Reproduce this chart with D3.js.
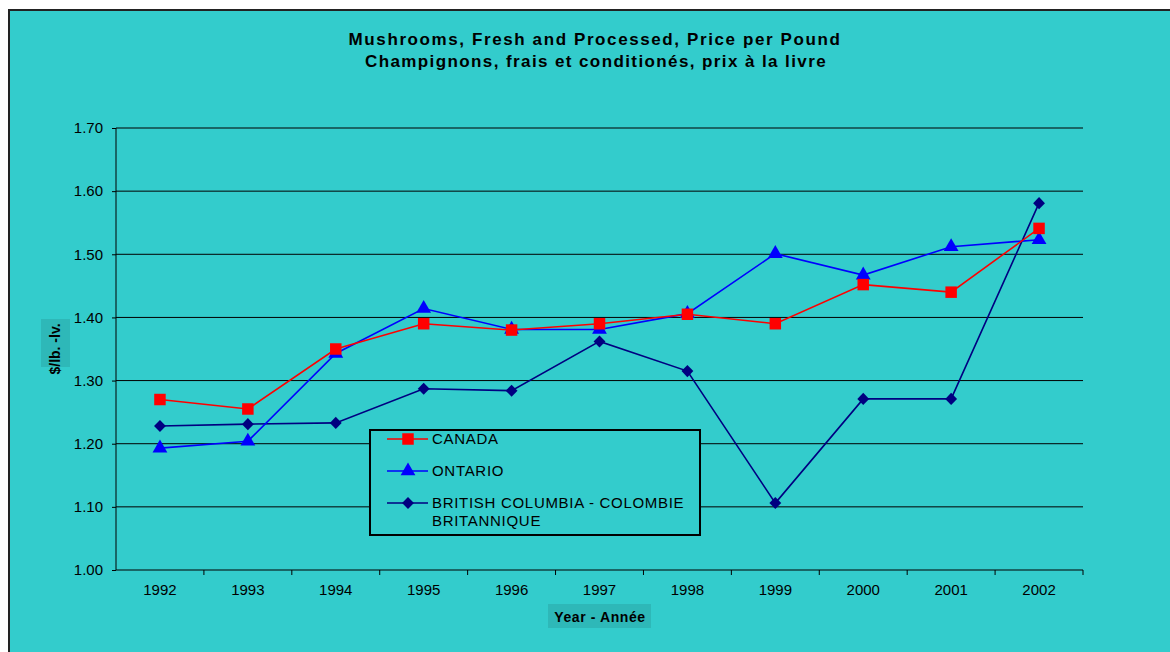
<!DOCTYPE html>
<html>
<head>
<meta charset="utf-8">
<script src="https://cdn.jsdelivr.net/npm/d3@7"></script>
<style>
  body { margin: 0; background: #fff; }
  text { font-family: "Liberation Sans", Arial, sans-serif; }
</style>
</head>
<body>
<div id="chart"></div>
<script>
// data
let years = ["1992","1993","1994","1995","1996","1997","1998","1999","2000","2001","2002"];
let canada  = [1.27, 1.255, 1.35, 1.39, 1.38, 1.39, 1.405, 1.39, 1.452, 1.44, 1.541];
let ontario = [1.193, 1.204, 1.343, 1.414, 1.381, 1.381, 1.406, 1.501, 1.467, 1.512, 1.523];
let bc      = [1.228, 1.231, 1.233, 1.287, 1.284, 1.362, 1.315, 1.106, 1.271, 1.271, 1.581];
let yTicks  = [1.00, 1.10, 1.20, 1.30, 1.40, 1.50, 1.60, 1.70];
let seriesNames = ["CANADA", "ONTARIO", "BRITISH COLUMBIA - COLOMBIE|BRITANNIQUE"];

let W = 1170, H = 652;
let margin = {top: 128, left: 116, right: 1170 - 1083, bottom: 652 - 570};
let width = W - margin.left - margin.right,
    height = H - margin.top - margin.bottom;

let svg = d3.select("#chart").append("svg")
    .attr("width", W)
    .attr("height", H);

// chart frame
svg.append("rect")
    .attr("x", 9).attr("y", 10)
    .attr("width", W).attr("height", H)
    .attr("fill", "#33CCCC")
    .attr("stroke", "#222")
    .attr("stroke-width", 2);

svg.append("text")
    .attr("x", 595).attr("y", 45)
    .attr("text-anchor", "middle")
    .style("font-size", "17px").style("font-weight", "bold").style("letter-spacing", "1.6px")
    .text("Mushrooms, Fresh and Processed, Price per Pound");
svg.append("text")
    .attr("x", 596).attr("y", 67)
    .attr("text-anchor", "middle")
    .style("font-size", "17px").style("font-weight", "bold").style("letter-spacing", "1.4px")
    .text("Champignons, frais et conditionés, prix à la livre");

let g = svg.append("g")
    .attr("transform", "translate(" + margin.left + "," + margin.top + ")");

let x = d3.scaleBand().domain(years).range([0, width]);
let y = d3.scaleLinear().domain([1.0, 1.7]).range([height, 0]);

// gridlines
g.selectAll(".grid").data(yTicks.slice(1)).enter().append("line")
    .attr("x1", 0).attr("x2", width)
    .attr("y1", d => y(d)).attr("y2", d => y(d))
    .attr("stroke", "#000").attr("stroke-width", 1);

let yAxis = d3.axisLeft(y).tickValues(yTicks).tickFormat(d3.format(".2f")).tickSize(4).tickPadding(9);
let gy = g.append("g").call(yAxis);
gy.select(".domain").attr("d", "M0," + height + "V0");
gy.selectAll("text").style("font-size", "15px").attr("fill", "#000");

let xAxis = d3.axisBottom(x).tickSize(0).tickPadding(14);
let gx = g.append("g").attr("transform", "translate(0," + height + ")").call(xAxis);
gx.select(".domain").attr("d", "M0,0H" + width);
gx.selectAll("text").style("font-size", "15px").attr("fill", "#000");
// ticks between categories
gx.selectAll(".sep").data(years.slice(1).concat(["end"])).enter().append("line")
    .attr("x1", (d, i) => x.step() * (i + 1)).attr("x2", (d, i) => x.step() * (i + 1))
    .attr("y1", 0).attr("y2", 5)
    .attr("stroke", "#000");

// axis titles
svg.append("rect").attr("x", 41).attr("y", 319).attr("width", 29).attr("height", 48)
    .attr("fill", "#2EB8B8");
svg.append("text")
    .attr("transform", "translate(60,349) rotate(-90)")
    .attr("text-anchor", "middle")
    .style("font-size", "14px").style("font-weight", "bold")
    .text("$/lb. -lv.");
svg.append("rect").attr("x", 548).attr("y", 604).attr("width", 103).attr("height", 24)
    .attr("fill", "#2EB8B8");
svg.append("text")
    .attr("x", 600).attr("y", 622)
    .attr("text-anchor", "middle")
    .style("font-size", "14px").style("font-weight", "bold").style("letter-spacing", "0.6px")
    .text("Year - Année");

let line = d3.line()
    .x((d, i) => x(years[i]) + x.bandwidth() / 2)
    .y(d => y(d));

let series = [
  {vals: bc, color: "#000080", shape: d3.symbolDiamond, size: 42},
  {vals: ontario, color: "#0000FF", shape: d3.symbolTriangle, size: 95},
  {vals: canada, color: "#FF0000", shape: d3.symbolSquare, size: 132}
];

function markerTransform(shape, cx, cy) {
    return "translate(" + cx + "," + cy + ")" + (shape === d3.symbolDiamond ? " scale(1.7,1)" : "");
}

series.forEach(function(s) {
    g.append("path").datum(s.vals)
        .attr("d", line)
        .attr("fill", "none")
        .attr("stroke", s.color)
        .attr("stroke-width", 1.6);
});
series.forEach(function(s) {
    g.selectAll(null).data(s.vals).enter().append("path")
        .attr("transform", (d, i) => markerTransform(s.shape, x(years[i]) + x.bandwidth() / 2, y(d)))
        .attr("d", d3.symbol().type(s.shape).size(s.size))
        .attr("fill", s.color);
});

// legend
let leg = svg.append("g");
leg.append("rect").attr("x", 370).attr("y", 430).attr("width", 330).attr("height", 105)
    .attr("fill", "#33CCCC").attr("stroke", "#000").attr("stroke-width", 2);
let legItems = [
  {name: seriesNames[0], s: series[2], y: 439},
  {name: seriesNames[1], s: series[1], y: 471},
  {name: seriesNames[2], s: series[0], y: 503}
];
legItems.forEach(function(it) {
    leg.append("line").attr("x1", 387).attr("x2", 428).attr("y1", it.y).attr("y2", it.y)
        .attr("stroke", it.s.color).attr("stroke-width", 1.6);
    leg.append("path")
        .attr("transform", markerTransform(it.s.shape, 408, it.y))
        .attr("d", d3.symbol().type(it.s.shape).size(it.s.size))
        .attr("fill", it.s.color);
    let t = leg.append("text").attr("x", 432).attr("y", it.y + 5)
        .style("font-size", "15px").style("letter-spacing", "0.7px");
    it.name.split("|").forEach(function(part, k) {
        t.append("tspan").attr("x", 432).attr("dy", k === 0 ? 0 : 18).text(part);
    });
});
</script>
</body>
</html>
